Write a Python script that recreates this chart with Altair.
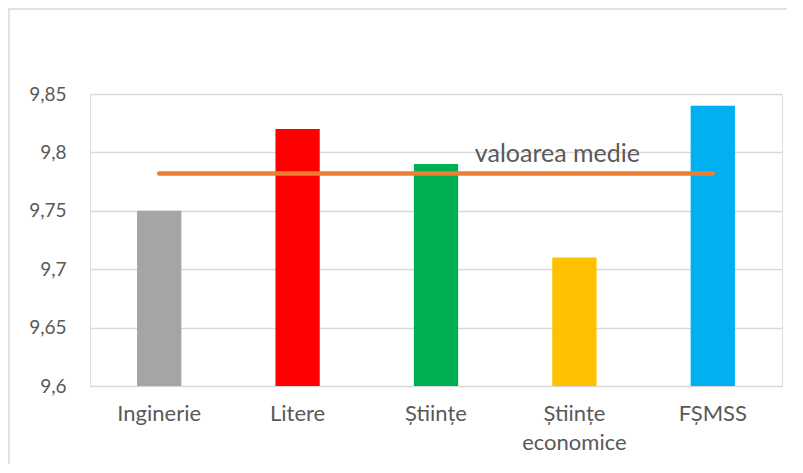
import altair as alt
import pandas as pd

categories = ["Inginerie", "Litere", "Științe", "Științe economice", "FȘMSS"]
values = [9.75, 9.82, 9.79, 9.71, 9.84]
bar_colors = ["#A5A5A5", "#FF0000", "#00B050", "#FFC000", "#00B0F0"]
mean_value = 9.782
mean_label = "valoarea medie"
y_ticks = [9.6, 9.65, 9.7, 9.75, 9.8, 9.85]

df = pd.DataFrame({"cat": categories, "val": values})
mean_df = pd.DataFrame({"cat": categories, "val": [mean_value] * len(categories)})
label_df = pd.DataFrame({"cat": ["Științe economice"], "val": [mean_value], "txt": [mean_label]})

FONT = "Lato"
GRAY = "#595959"

x_enc = alt.X(
    "cat:N",
    sort=categories,
    title=None,
    scale=alt.Scale(paddingInner=0.68, paddingOuter=0.34),
    axis=alt.Axis(
        labelAngle=0,
        labelExpr="split(datum.value, ' ')",
        labelFont=FONT,
        labelFontSize=22,
        labelColor=GRAY,
        labelPadding=17,
        labelLineHeight=29,
        ticks=False,
        domain=False,
        grid=False,
    ),
)

y_scale = alt.Scale(domain=[9.6, 9.85], zero=False, nice=False)

bars = alt.Chart(df).mark_bar().encode(
    x=x_enc,
    y=alt.Y(
        "val:Q",
        scale=y_scale,
        title=None,
        axis=alt.Axis(
            values=y_ticks,
            labelExpr="replace(format(datum.value, '.2~f'), '.', ',')",
            labelFont=FONT,
            labelFontSize=19,
            labelColor=GRAY,
            labelPadding=24,
            ticks=False,
            domain=False,
            gridColor="#D9D9D9",
            gridWidth=1.3,
        ),
    ),
    y2=alt.datum(9.6),
    color=alt.Color("cat:N", scale=alt.Scale(domain=categories, range=bar_colors), legend=None),
)

line = alt.Chart(mean_df).mark_line(color="#ED7D31", strokeWidth=4.5, strokeCap="round").encode(
    x=alt.X("cat:N", sort=categories),
    y=alt.Y("val:Q", scale=y_scale),
)

text = alt.Chart(label_df).mark_text(
    font=FONT, fontSize=25, color=GRAY, dx=-17, dy=-19
).encode(
    x=alt.X("cat:N", sort=categories),
    y=alt.Y("val:Q", scale=y_scale),
    text="txt:N",
)

frame_df = pd.DataFrame({"a": [0]})
top_border = alt.Chart(frame_df).mark_rule(color="#D9D9D9", strokeWidth=1.5).encode(
    x=alt.value(-82), x2=alt.value(700), y=alt.value(-85)
)
left_border = alt.Chart(frame_df).mark_rule(color="#D9D9D9", strokeWidth=1.5).encode(
    x=alt.value(-81), y=alt.value(-85), y2=alt.value(400)
)

chart = alt.layer(top_border, left_border, bars, line, text).properties(
    width=692,
    height=292,
    autosize=alt.AutoSizeParams(type="none"),
    padding={"left": 82, "top": 86, "right": 5, "bottom": 78},
).configure_view(stroke=None).configure(background="white")

chart.save("out.html", embed_options={"renderer": "svg", "actions": False})
